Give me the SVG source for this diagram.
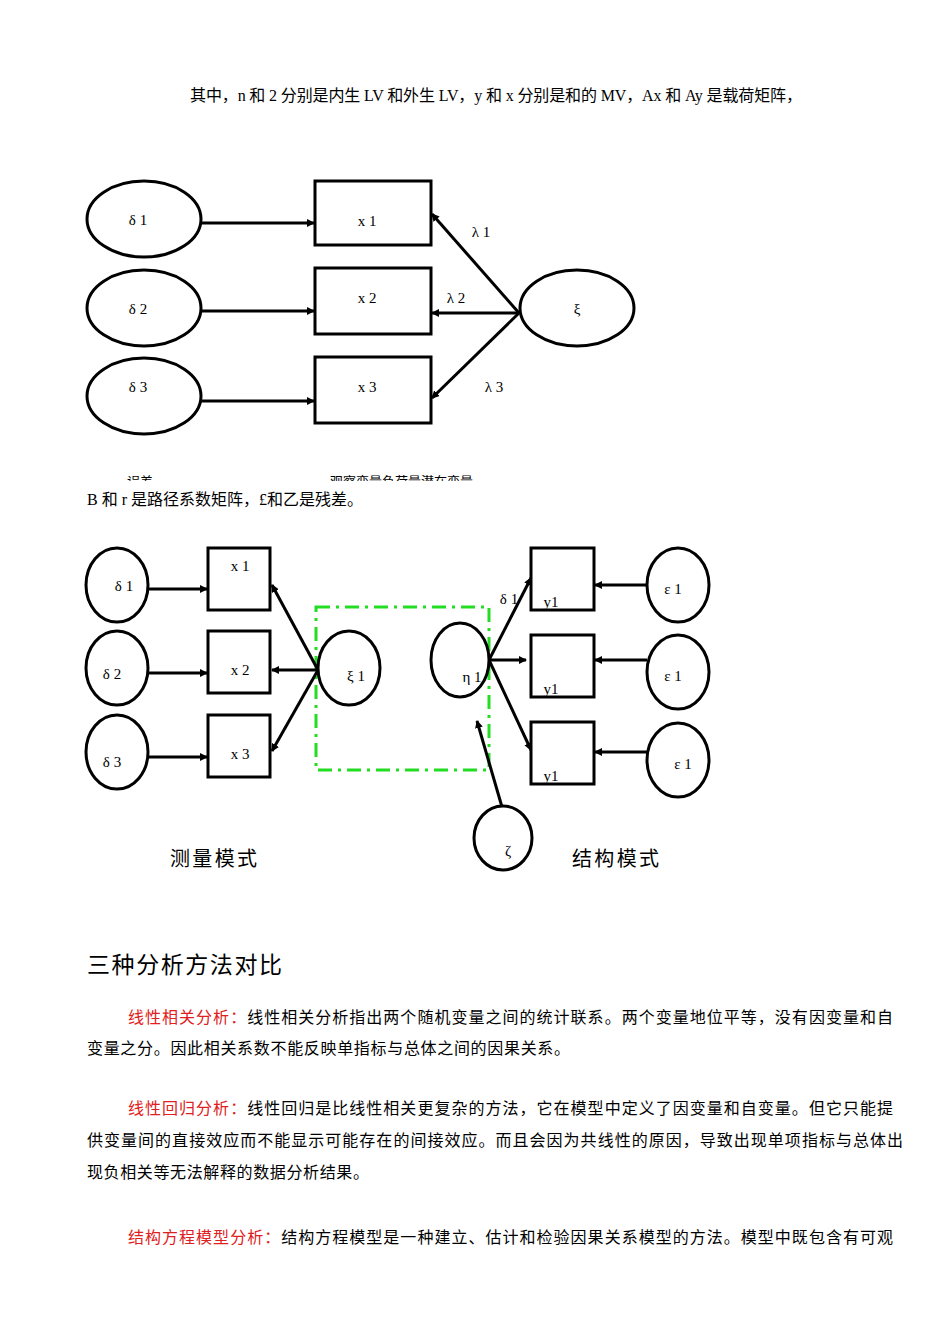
<svg xmlns="http://www.w3.org/2000/svg" width="950" height="1344" viewBox="0 0 950 1344">
<defs>
<marker id="ar" markerWidth="8" markerHeight="8" refX="7" refY="4" orient="auto" markerUnits="userSpaceOnUse"><path d="M0,0 L8,4 L0,8 z" fill="#000"/></marker>
<clipPath id="cut"><rect x="0" y="0" width="950" height="481"/></clipPath>
</defs>
<style>
text{font-family:"Liberation Serif","Noto Sans CJK SC",serif;fill:#000}
.n{fill:#fff;stroke:#000;stroke-width:3}
.c{stroke:#000;stroke-width:3;fill:none;marker-end:url(#ar)}
.l{font-size:15px;text-anchor:middle}
.p{font-size:16px}
.r{fill:#e02020}
</style>
<rect width="950" height="1344" fill="#fff"/>
<text class="p" x="190" y="101" textLength="612" lengthAdjust="spacing">其中，n 和 2 分别是内生 LV 和外生 LV，y 和 x 分别是和的 MV，Ax 和 Ay 是载荷矩阵，</text>
<g id="d1">
<g id="conn1">
<line class="c" x1="200" y1="223" x2="314" y2="223"/>
<line class="c" x1="200" y1="311" x2="314" y2="311"/>
<line class="c" x1="200" y1="401" x2="314" y2="401"/>
<line class="c" x1="519" y1="313" x2="432" y2="214"/>
<line class="c" x1="519" y1="313" x2="432" y2="313"/>
<line class="c" x1="519" y1="313" x2="432" y2="398"/>
</g>
<g id="e1"><ellipse class="n" cx="144" cy="219" rx="57" ry="38"/><text class="l" x="138" y="225">δ 1</text></g>
<g id="e2"><ellipse class="n" cx="144" cy="308" rx="57" ry="38"/><text class="l" x="138" y="314">δ 2</text></g>
<g id="e3"><ellipse class="n" cx="144" cy="396" rx="57" ry="38"/><text class="l" x="138" y="392">δ 3</text></g>
<g id="bx1"><rect class="n" x="315" y="181" width="116" height="64"/><text class="l" x="367" y="226">x 1</text></g>
<g id="bx2"><rect class="n" x="315" y="268" width="116" height="66"/><text class="l" x="367" y="303">x 2</text></g>
<g id="bx3"><rect class="n" x="315" y="357" width="116" height="66"/><text class="l" x="367" y="392">x 3</text></g>
<g id="xi"><ellipse class="n" cx="577" cy="308" rx="57" ry="38"/><text class="l" x="577" y="314">ξ</text></g>
<text class="l" x="481" y="237">λ 1</text>
<text class="l" x="456" y="303">λ 2</text>
<text class="l" x="494" y="392">λ 3</text>
<g clip-path="url(#cut)"><text x="127" y="486" font-size="13">误差</text><text x="330" y="486" font-size="13">观察变量负荷量潜在变量</text></g>
</g>
<text class="p" x="87" y="505">B 和 r 是路径系数矩阵，£和乙是残差。</text>
<g id="d2">
<rect x="316" y="607" width="173" height="163" fill="none" stroke="#22dd22" stroke-width="3" stroke-dasharray="14,6,3,6"/>
<g id="conn2">
<line class="c" x1="148" y1="589" x2="207" y2="589"/>
<line class="c" x1="148" y1="673" x2="207" y2="673"/>
<line class="c" x1="148" y1="757" x2="207" y2="757"/>
<line class="c" x1="318" y1="670" x2="272" y2="585"/>
<line class="c" x1="318" y1="670" x2="272" y2="670"/>
<line class="c" x1="318" y1="670" x2="272" y2="751"/>
<line class="c" x1="489" y1="660" x2="531" y2="578"/>
<line class="c" x1="489" y1="660" x2="526" y2="660"/>
<line class="c" x1="489" y1="660" x2="531" y2="750"/>
<line class="c" x1="647" y1="585" x2="595" y2="585"/>
<line class="c" x1="647" y1="660" x2="595" y2="660"/>
<line class="c" x1="647" y1="752" x2="595" y2="752"/>
<line class="c" x1="502" y1="807" x2="477" y2="721"/>
</g>
<g id="d21"><ellipse class="n" cx="117" cy="585" rx="31" ry="37"/><text class="l" x="124" y="591">δ 1</text></g>
<g id="d22"><ellipse class="n" cx="117" cy="668" rx="31" ry="37"/><text class="l" x="112" y="679">δ 2</text></g>
<g id="d23"><ellipse class="n" cx="117" cy="752" rx="31" ry="37"/><text class="l" x="112" y="767">δ 3</text></g>
<g id="x21"><rect class="n" x="208" y="548" width="62" height="62"/><text class="l" x="240" y="571">x 1</text></g>
<g id="x22"><rect class="n" x="208" y="631" width="62" height="62"/><text class="l" x="240" y="675">x 2</text></g>
<g id="x23"><rect class="n" x="208" y="715" width="62" height="62"/><text class="l" x="240" y="759">x 3</text></g>
<g id="xi1"><ellipse class="n" cx="349" cy="668" rx="31" ry="37"/><text class="l" x="356" y="681">ξ 1</text></g>
<g id="eta"><ellipse class="n" cx="460" cy="660" rx="29" ry="37"/><text class="l" x="472" y="682">η 1</text></g>
<g id="y1"><rect class="n" x="531" y="548" width="63" height="62"/><text class="l" x="551" y="607">y1</text></g>
<g id="y2"><rect class="n" x="531" y="635" width="63" height="62"/><text class="l" x="551" y="694">y1</text></g>
<g id="y3"><rect class="n" x="531" y="722" width="63" height="62"/><text class="l" x="551" y="781">y1</text></g>
<text class="l" x="509" y="604">δ 1</text>
<g id="ep1"><ellipse class="n" cx="678" cy="585" rx="31" ry="37"/><text class="l" x="673" y="594">ε 1</text></g>
<g id="ep2"><ellipse class="n" cx="678" cy="672" rx="31" ry="37"/><text class="l" x="673" y="681">ε 1</text></g>
<g id="ep3"><ellipse class="n" cx="678" cy="760" rx="31" ry="37"/><text class="l" x="683" y="769">ε 1</text></g>
<g id="zeta"><ellipse class="n" cx="503" cy="838" rx="29" ry="32"/><text class="l" x="508" y="856">ζ</text></g>
<text x="170" y="866" font-size="20" textLength="87" style="font-family:'Noto Sans CJK SC',sans-serif" fill="#333">测量模式</text>
<text x="572" y="866" font-size="20" textLength="87" style="font-family:'Noto Sans CJK SC',sans-serif" fill="#333">结构模式</text>
</g>
<text x="87" y="973" font-size="23" textLength="195" style="font-family:'Noto Sans CJK SC',sans-serif">三种分析方法对比</text>
<text class="p" x="128" y="1023" textLength="765" lengthAdjust="spacing"><tspan class="r">线性相关分析：</tspan>线性相关分析指出两个随机变量之间的统计联系。两个变量地位平等，没有因变量和自</text>
<text class="p" x="87" y="1054" textLength="483" lengthAdjust="spacing">变量之分。因此相关系数不能反映单指标与总体之间的因果关系。</text>
<text class="p" x="128" y="1114" textLength="765" lengthAdjust="spacing"><tspan class="r">线性回归分析：</tspan>线性回归是比线性相关更复杂的方法，它在模型中定义了因变量和自变量。但它只能提</text>
<text class="p" x="87" y="1146" textLength="816" lengthAdjust="spacing">供变量间的直接效应而不能显示可能存在的间接效应。而且会因为共线性的原因，导致出现单项指标与总体出</text>
<text class="p" x="87" y="1178" textLength="282" lengthAdjust="spacing">现负相关等无法解释的数据分析结果。</text>
<text class="p" x="128" y="1243" textLength="765" lengthAdjust="spacing"><tspan class="r">结构方程模型分析：</tspan>结构方程模型是一种建立、估计和检验因果关系模型的方法。模型中既包含有可观</text>
</svg>
